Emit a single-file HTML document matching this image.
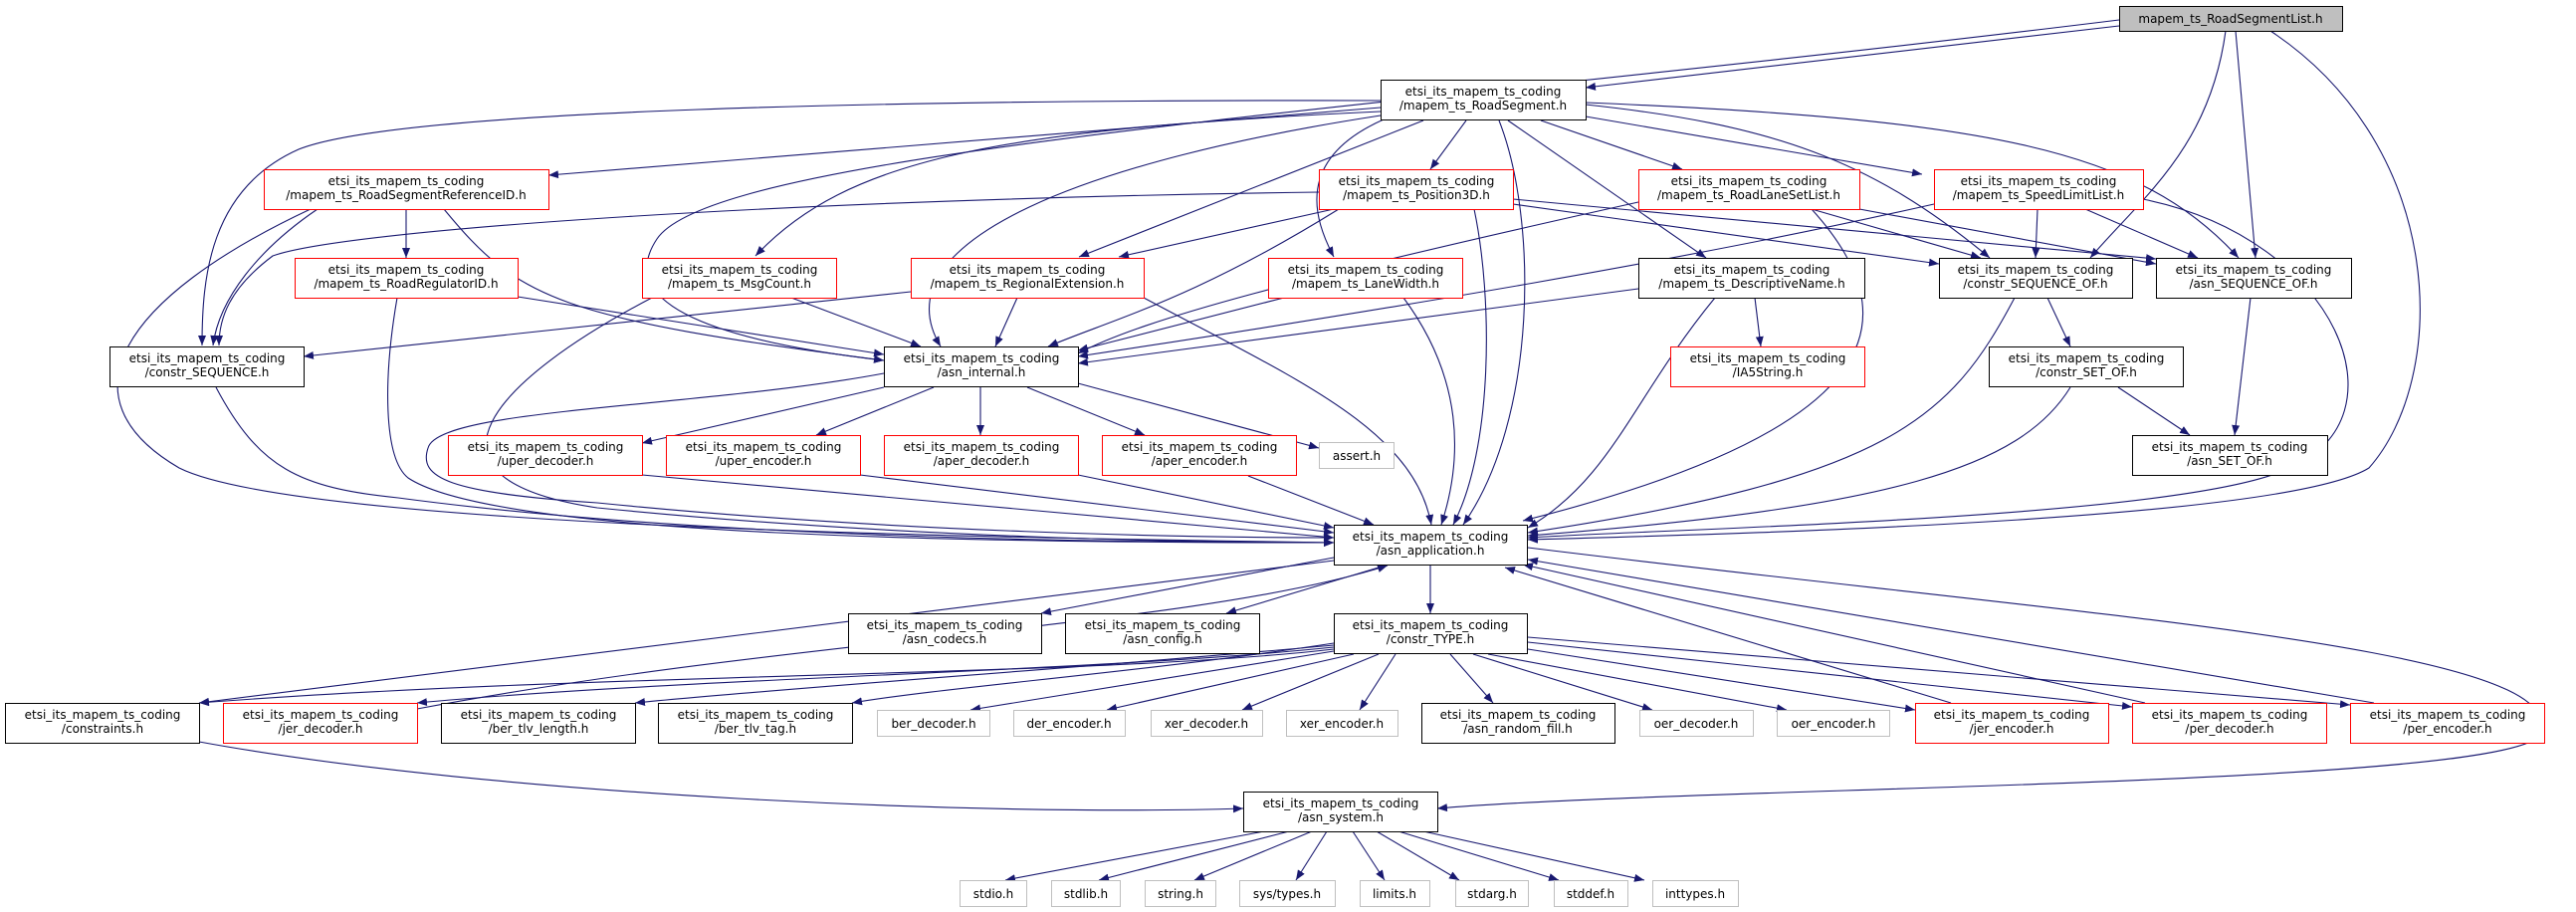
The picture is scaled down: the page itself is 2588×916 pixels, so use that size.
<!DOCTYPE html>
<html><head><meta charset="utf-8"><style>
html,body{margin:0;padding:0;background:#fff;}
svg{display:block;}
text{font-family:"DejaVu Sans","Liberation Sans",sans-serif;font-size:12px;fill:#000;text-anchor:middle;}
.e{fill:none;stroke:#191970;stroke-width:1.1;marker-end:url(#a);}
.n{fill:#fff;stroke:#000;stroke-width:1;}
.r{fill:#fff;stroke:#ff0000;stroke-width:1;}
.g{fill:#fff;stroke:#bfbfbf;stroke-width:1;}
</style></head><body>
<svg width="2588" height="916" viewBox="0 0 2588 916" xmlns="http://www.w3.org/2000/svg">
<defs><marker id="a" markerUnits="userSpaceOnUse" markerWidth="11" markerHeight="8" refX="10" refY="4" orient="auto"><path d="M0,0 L10,4 L0,8 z" fill="#191970"/></marker></defs>
<!-- edges -->
<path class="e" d="M2129,26 L1593,88"/>
<path class="e" d="M2129,20 C1400,110 720,150 660,240 C620,300 700,340 888,362"/>
<path class="e" d="M2236,31 C2220,150 2150,200 2100,259"/>
<path class="e" d="M2246,31 L2266,259"/>
<path class="e" d="M2281,31 C2460,150 2460,380 2380,470 C2300,520 1800,535 1535,542"/>
<path class="e" d="M1387,108 L551,176"/>
<path class="e" d="M1387,101 C900,100 400,110 300,150 C210,190 203,280 203,347"/>
<path class="e" d="M1387,112 C1000,130 850,160 759,257"/>
<path class="e" d="M1430,121 L1084,258"/>
<path class="e" d="M1387,116 C1100,160 880,240 945,348"/>
<path class="e" d="M1473,121 L1437,170"/>
<path class="e" d="M1390,120 C1300,160 1320,220 1340,258"/>
<path class="e" d="M1506,121 C1545,220 1545,420 1470,527"/>
<path class="e" d="M1515,121 L1714,259"/>
<path class="e" d="M1548,121 L1690,170"/>
<path class="e" d="M1593,117 L1931,175"/>
<path class="e" d="M1593,105 C1780,125 1880,160 1999,259"/>
<path class="e" d="M1593,103 C2000,120 2150,150 2249,259"/>
<path class="e" d="M319,210 C260,250 220,300 214,347"/>
<path class="e" d="M312,210 C120,300 60,400 180,470 C300,530 1000,540 1340,545"/>
<path class="e" d="M408,210 L408,259"/>
<path class="e" d="M446,210 C520,300 560,320 888,362"/>
<path class="e" d="M520,298 L888,356"/>
<path class="e" d="M399,299 C385,380 385,460 410,480 C500,540 1000,545 1340,545"/>
<path class="e" d="M795,299 L925,348"/>
<path class="e" d="M655,299 C500,380 400,480 600,510 C900,540 1200,545 1340,545"/>
<path class="e" d="M915,293 L305,358"/>
<path class="e" d="M1022,299 L1000,348"/>
<path class="e" d="M1149,299 C1300,380 1420,430 1438,527"/>
<path class="e" d="M1290,299 L1083,352"/>
<path class="e" d="M1410,299 C1470,380 1470,460 1448,527"/>
<path class="e" d="M1340,210 L1124,258"/>
<path class="e" d="M1345,210 C1200,300 1120,320 1053,348"/>
<path class="e" d="M1325,193 C800,200 350,230 274,257 C230,290 220,320 220,347"/>
<path class="e" d="M1520,205 L1948,265"/>
<path class="e" d="M1520,200 L2166,260"/>
<path class="e" d="M1481,210 C1500,300 1500,450 1460,527"/>
<path class="e" d="M1646,203 C1300,280 1150,320 1083,355"/>
<path class="e" d="M1820,210 L1990,259"/>
<path class="e" d="M1868,210 L2166,265"/>
<path class="e" d="M1820,210 C1920,320 1900,430 1530,523"/>
<path class="e" d="M1943,205 C1700,260 1400,310 1083,358"/>
<path class="e" d="M2047,210 L2045,259"/>
<path class="e" d="M2095,210 L2208,259"/>
<path class="e" d="M2153,200 C2350,240 2420,420 2300,470 C2200,520 1700,530 1535,540"/>
<path class="e" d="M1646,290 L1083,365"/>
<path class="e" d="M1763,299 L1769,348"/>
<path class="e" d="M1723,299 C1640,400 1620,480 1535,530"/>
<path class="e" d="M2057,299 L2080,348"/>
<path class="e" d="M2024,299 C1960,420 1900,480 1535,535"/>
<path class="e" d="M2128,389 L2200,437"/>
<path class="e" d="M2080,389 C2030,470 1900,510 1535,538"/>
<path class="e" d="M2261,299 L2245,437"/>
<path class="e" d="M217,389 C260,470 300,490 400,500 C700,540 1100,545 1340,545"/>
<path class="e" d="M888,375 C700,410 440,410 430,450 C420,480 450,495 600,505 C900,535 1200,540 1340,540"/>
<path class="e" d="M888,389 L645,445"/>
<path class="e" d="M938,389 L820,437"/>
<path class="e" d="M985,389 L985,437"/>
<path class="e" d="M1032,389 L1150,437"/>
<path class="e" d="M1083,385 L1325,450"/>
<path class="e" d="M645,477 L1340,540"/>
<path class="e" d="M864,477 L1340,535"/>
<path class="e" d="M1083,477 L1340,530"/>
<path class="e" d="M1254,478 L1380,527"/>
<path class="e" d="M1340,560 L1046,616"/>
<path class="e" d="M1395,567 L1232,616"/>
<path class="e" d="M1437,567 L1437,616"/>
<path class="e" d="M1340,563 L200,706"/>
<path class="e" d="M1535,550 C2100,620 2600,650 2550,740 C2500,790 1700,790 1444,812"/>
<path class="e" d="M419,712 C800,640 1200,630 1394,568"/>
<path class="e" d="M1340,652 C1100,680 600,675 200,706"/>
<path class="e" d="M1340,650 C1100,675 700,680 419,706"/>
<path class="e" d="M1340,648 C1100,670 800,690 638,706"/>
<path class="e" d="M1340,646 C1150,675 950,690 856,706"/>
<path class="e" d="M1340,654 L975,713"/>
<path class="e" d="M1360,657 L1112,713"/>
<path class="e" d="M1385,657 L1248,713"/>
<path class="e" d="M1402,657 L1366,713"/>
<path class="e" d="M1457,657 L1500,706"/>
<path class="e" d="M1480,657 L1660,713"/>
<path class="e" d="M1495,657 L1795,713"/>
<path class="e" d="M1535,652 L1924,713"/>
<path class="e" d="M1535,645 L2142,710"/>
<path class="e" d="M1535,640 L2361,708"/>
<path class="e" d="M1960,706 L1512,570"/>
<path class="e" d="M2155,706 L1530,567"/>
<path class="e" d="M2385,706 L1535,562"/>
<path class="e" d="M200,745 C500,800 1000,820 1249,812"/>
<path class="e" d="M1270,835 L1010,884"/>
<path class="e" d="M1295,835 L1104,884"/>
<path class="e" d="M1318,835 L1200,884"/>
<path class="e" d="M1333,835 L1302,884"/>
<path class="e" d="M1359,835 L1391,884"/>
<path class="e" d="M1383,835 L1466,884"/>
<path class="e" d="M1405,835 L1566,884"/>
<path class="e" d="M1430,835 L1652,884"/>
<!-- nodes -->
<rect x="2129.5" y="6.5" width="224" height="25" fill="#bfbfbf" stroke="#000"/><text x="2241" y="23">mapem_ts_RoadSegmentList.h</text>
<rect class="n" x="1387.5" y="80.5" width="206" height="40"/><text x="1490" y="96">etsi_its_mapem_ts_coding</text><text x="1490" y="110">/mapem_ts_RoadSegment.h</text>
<rect class="r" x="265.5" y="170.5" width="286" height="40"/><text x="408" y="186">etsi_its_mapem_ts_coding</text><text x="408" y="200">/mapem_ts_RoadSegmentReferenceID.h</text>
<rect class="r" x="1325.5" y="170.5" width="195" height="40"/><text x="1423" y="186">etsi_its_mapem_ts_coding</text><text x="1423" y="200">/mapem_ts_Position3D.h</text>
<rect class="r" x="1646.5" y="170.5" width="222" height="40"/><text x="1757" y="186">etsi_its_mapem_ts_coding</text><text x="1757" y="200">/mapem_ts_RoadLaneSetList.h</text>
<rect class="r" x="1943.5" y="170.5" width="210" height="40"/><text x="2048" y="186">etsi_its_mapem_ts_coding</text><text x="2048" y="200">/mapem_ts_SpeedLimitList.h</text>
<rect class="r" x="296.5" y="259.5" width="224" height="40"/><text x="408" y="275">etsi_its_mapem_ts_coding</text><text x="408" y="289">/mapem_ts_RoadRegulatorID.h</text>
<rect class="r" x="645.5" y="259.5" width="195" height="40"/><text x="743" y="275">etsi_its_mapem_ts_coding</text><text x="743" y="289">/mapem_ts_MsgCount.h</text>
<rect class="r" x="915.5" y="259.5" width="234" height="40"/><text x="1032" y="275">etsi_its_mapem_ts_coding</text><text x="1032" y="289">/mapem_ts_RegionalExtension.h</text>
<rect class="r" x="1274.5" y="259.5" width="195" height="40"/><text x="1372" y="275">etsi_its_mapem_ts_coding</text><text x="1372" y="289">/mapem_ts_LaneWidth.h</text>
<rect class="n" x="1646.5" y="259.5" width="227" height="40"/><text x="1760" y="275">etsi_its_mapem_ts_coding</text><text x="1760" y="289">/mapem_ts_DescriptiveName.h</text>
<rect class="n" x="1948.5" y="259.5" width="194" height="40"/><text x="2045" y="275">etsi_its_mapem_ts_coding</text><text x="2045" y="289">/constr_SEQUENCE_OF.h</text>
<rect class="n" x="2166.5" y="259.5" width="196" height="40"/><text x="2264" y="275">etsi_its_mapem_ts_coding</text><text x="2264" y="289">/asn_SEQUENCE_OF.h</text>
<rect class="n" x="110.5" y="348.5" width="195" height="40"/><text x="208" y="364">etsi_its_mapem_ts_coding</text><text x="208" y="378">/constr_SEQUENCE.h</text>
<rect class="n" x="888.5" y="348.5" width="195" height="40"/><text x="986" y="364">etsi_its_mapem_ts_coding</text><text x="986" y="378">/asn_internal.h</text>
<rect class="r" x="1678.5" y="348.5" width="195" height="40"/><text x="1776" y="364">etsi_its_mapem_ts_coding</text><text x="1776" y="378">/IA5String.h</text>
<rect class="n" x="1998.5" y="348.5" width="195" height="40"/><text x="2096" y="364">etsi_its_mapem_ts_coding</text><text x="2096" y="378">/constr_SET_OF.h</text>
<rect class="r" x="450.5" y="437.5" width="195" height="40"/><text x="548" y="453">etsi_its_mapem_ts_coding</text><text x="548" y="467">/uper_decoder.h</text>
<rect class="r" x="669.5" y="437.5" width="195" height="40"/><text x="767" y="453">etsi_its_mapem_ts_coding</text><text x="767" y="467">/uper_encoder.h</text>
<rect class="r" x="888.5" y="437.5" width="195" height="40"/><text x="986" y="453">etsi_its_mapem_ts_coding</text><text x="986" y="467">/aper_decoder.h</text>
<rect class="r" x="1107.5" y="437.5" width="195" height="40"/><text x="1205" y="453">etsi_its_mapem_ts_coding</text><text x="1205" y="467">/aper_encoder.h</text>
<rect class="g" x="1325.5" y="444.5" width="75" height="26"/><text x="1363" y="462">assert.h</text>
<rect class="n" x="2142.5" y="437.5" width="196" height="40"/><text x="2240" y="453">etsi_its_mapem_ts_coding</text><text x="2240" y="467">/asn_SET_OF.h</text>
<rect class="n" x="1340.5" y="527.5" width="194" height="40"/><text x="1437" y="543">etsi_its_mapem_ts_coding</text><text x="1437" y="557">/asn_application.h</text>
<rect class="n" x="852.5" y="616.5" width="194" height="40"/><text x="949" y="632">etsi_its_mapem_ts_coding</text><text x="949" y="646">/asn_codecs.h</text>
<rect class="n" x="1070.5" y="616.5" width="195" height="40"/><text x="1168" y="632">etsi_its_mapem_ts_coding</text><text x="1168" y="646">/asn_config.h</text>
<rect class="n" x="1340.5" y="616.5" width="194" height="40"/><text x="1437" y="632">etsi_its_mapem_ts_coding</text><text x="1437" y="646">/constr_TYPE.h</text>
<rect class="n" x="5.5" y="706.5" width="195" height="40"/><text x="103" y="722">etsi_its_mapem_ts_coding</text><text x="103" y="736">/constraints.h</text>
<rect class="r" x="224.5" y="706.5" width="195" height="40"/><text x="322" y="722">etsi_its_mapem_ts_coding</text><text x="322" y="736">/jer_decoder.h</text>
<rect class="n" x="443.5" y="706.5" width="195" height="40"/><text x="541" y="722">etsi_its_mapem_ts_coding</text><text x="541" y="736">/ber_tlv_length.h</text>
<rect class="n" x="661.5" y="706.5" width="195" height="40"/><text x="759" y="722">etsi_its_mapem_ts_coding</text><text x="759" y="736">/ber_tlv_tag.h</text>
<rect class="g" x="881.5" y="713.5" width="113" height="26"/><text x="938" y="731">ber_decoder.h</text>
<rect class="g" x="1018.5" y="713.5" width="112" height="26"/><text x="1074" y="731">der_encoder.h</text>
<rect class="g" x="1156.5" y="713.5" width="112" height="26"/><text x="1212" y="731">xer_decoder.h</text>
<rect class="g" x="1292.5" y="713.5" width="112" height="26"/><text x="1348" y="731">xer_encoder.h</text>
<rect class="n" x="1428.5" y="706.5" width="194" height="40"/><text x="1525" y="722">etsi_its_mapem_ts_coding</text><text x="1525" y="736">/asn_random_fill.h</text>
<rect class="g" x="1647.5" y="713.5" width="114" height="26"/><text x="1704" y="731">oer_decoder.h</text>
<rect class="g" x="1785.5" y="713.5" width="113" height="26"/><text x="1842" y="731">oer_encoder.h</text>
<rect class="r" x="1924.5" y="706.5" width="194" height="40"/><text x="2021" y="722">etsi_its_mapem_ts_coding</text><text x="2021" y="736">/jer_encoder.h</text>
<rect class="r" x="2142.5" y="706.5" width="195" height="40"/><text x="2240" y="722">etsi_its_mapem_ts_coding</text><text x="2240" y="736">/per_decoder.h</text>
<rect class="r" x="2361.5" y="706.5" width="195" height="40"/><text x="2459" y="722">etsi_its_mapem_ts_coding</text><text x="2459" y="736">/per_encoder.h</text>
<rect class="n" x="1249.5" y="795.5" width="195" height="40"/><text x="1347" y="811">etsi_its_mapem_ts_coding</text><text x="1347" y="825">/asn_system.h</text>
<rect class="g" x="964.5" y="884.5" width="67" height="26"/><text x="998" y="902">stdio.h</text>
<rect class="g" x="1056.5" y="884.5" width="69" height="26"/><text x="1091" y="902">stdlib.h</text>
<rect class="g" x="1150.5" y="884.5" width="71" height="26"/><text x="1186" y="902">string.h</text>
<rect class="g" x="1245.5" y="884.5" width="96" height="26"/><text x="1293" y="902">sys/types.h</text>
<rect class="g" x="1366.5" y="884.5" width="70" height="26"/><text x="1401" y="902">limits.h</text>
<rect class="g" x="1462.5" y="884.5" width="73" height="26"/><text x="1499" y="902">stdarg.h</text>
<rect class="g" x="1561.5" y="884.5" width="74" height="26"/><text x="1598" y="902">stddef.h</text>
<rect class="g" x="1660.5" y="884.5" width="86" height="26"/><text x="1703" y="902">inttypes.h</text>
</svg>
</body></html>
